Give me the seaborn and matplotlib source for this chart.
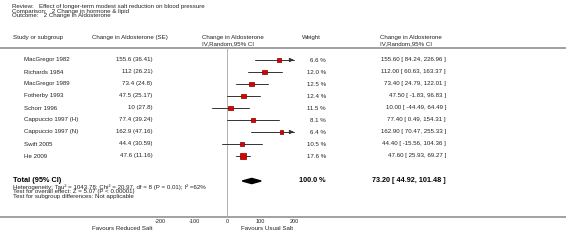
import matplotlib
matplotlib.use("Agg")
import matplotlib.pyplot as plt
import seaborn as sns
import pandas as pd
import numpy as np

sns.set_style("white")
plt.rcParams['font.family'] = ['Liberation Sans', 'DejaVu Sans']

studies = ["MacGregor 1982", "Richards 1984", "MacGregor 1989", "Fotherby 1993",
           "Schorr 1996", "Cappuccio 1997 (H)", "Cappuccio 1997 (N)", "Swift 2005", "He 2009"]
se_text = ["155.6 (36.41)", "112 (26.21)", "73.4 (24.8)", "47.5 (25.17)", "10 (27.8)",
           "77.4 (39.24)", "162.9 (47.16)", "44.4 (30.59)", "47.6 (11.16)"]
means = [155.60, 112.00, 73.40, 47.50, 10.00, 77.40, 162.90, 44.40, 47.60]
lows = [84.24, 60.63, 24.79, -1.83, -44.49, 0.49, 70.47, -15.56, 25.93]
highs = [226.96, 163.37, 122.01, 96.83, 64.49, 154.31, 255.33, 104.36, 69.27]
weights = [6.6, 12.0, 12.5, 12.4, 11.5, 8.1, 6.4, 10.5, 17.6]
total_mean, total_low, total_high = 73.20, 44.92, 101.48
xticks = [-200, -100, 0, 100, 200]

header_lines = ["Review:   Effect of longer-term modest salt reduction on blood pressure",
                "Comparison:   2 Change in hormone & lipid",
                "Outcome:   2 Change in Aldosterone"]
foot_lines = ["Heterogeneity: Tau\u00b2 = 1043.78; Chi\u00b2 = 20.97, df = 8 (P = 0.01); I\u00b2 =62%",
              "Test for overall effect: Z = 5.07 (P < 0.00001)",
              "Test for subgroup differences: Not applicable"]

W, H = 566, 241
fig = plt.figure(figsize=(W / 100, H / 100), dpi=100)
ov = fig.add_axes([0, 0, 1, 1])
ov.set_xlim(0, W)
ov.set_ylim(H, 0)
ov.axis("off")

fs = 4.4
tc = "#222222"
# header
for i, t in enumerate(header_lines):
    ov.text(12, 6.7 + 4.3 * i, t, fontsize=fs, va="center", ha="left", color=tc)
ov.text(13, 37.5, "Study or subgroup", fontsize=fs, va="center", color=tc)
ov.text(92.5, 37.5, "Change in Aldosterone (SE)", fontsize=fs, va="center", color=tc)
ov.text(201.5, 37.5, "Change in Aldosterone", fontsize=fs, va="center", color=tc)
ov.text(201.5, 43.3, "IV,Random,95% CI", fontsize=fs, va="center", color=tc)
ov.text(301.5, 37.5, "Weight", fontsize=fs, va="center", color=tc)
ov.text(380, 37.5, "Change in Aldosterone", fontsize=fs, va="center", color=tc)
ov.text(380, 43.3, "IV,Random,95% CI", fontsize=fs, va="center", color=tc)
ov.plot([0, W], [48.3, 48.3], color="#9a9a9a", lw=1.3)

row_y = [60 + 12 * i for i in range(len(studies))]
for y, s, se, w, m, lo, hi in zip(row_y, studies, se_text, weights, means, lows, highs):
    ov.text(24, y, s, fontsize=fs, va="center", color=tc)
    ov.text(152.5, y, se, fontsize=fs, va="center", ha="right", color=tc)
    ov.text(326, y, f"{w:.1f} %", fontsize=fs, va="center", ha="right", color=tc)
    ov.text(446, y, f"{m:.2f} [ {lo:.2f}, {hi:.2f} ]", fontsize=fs, va="center", ha="right", color=tc)

ty = 181
ov.text(13, ty - 0.5, "Total (95% CI)", fontsize=5.3, fontweight="bold", va="center", color="black")
ov.text(326, ty, "100.0 %", fontsize=5.2, fontweight="bold", va="center", ha="right", color="black")
ov.text(446, ty, f"{total_mean:.2f} [ {total_low:.2f}, {total_high:.2f} ]", fontsize=5.2,
        fontweight="bold", va="center", ha="right", color="black")
for i, t in enumerate(foot_lines):
    ov.text(13, 187.3 + 4.7 * i, t, fontsize=fs, va="center", color=tc)

ov.plot([0, W], [217.4, 217.4], color="#9a9a9a", lw=1.3)
ov.text(152, 228.3, "Favours Reduced Salt", fontsize=fs, va="center", ha="right", color=tc)
ov.text(241, 228.3, "Favours Usual Salt", fontsize=fs, va="center", ha="left", color=tc)

# forest axes: 0 at x=227.3, 0.333 px per unit
x0, ppu = 227.3, 0.3333
left_px = x0 - 300 * ppu
right_px = x0 + 300 * ppu
top_px, bot_px = 48.3, 217.4
ax = fig.add_axes([left_px / W, (H - bot_px) / H, (right_px - left_px) / W, (bot_px - top_px) / H])
ax.set_xlim(-300, 300)
ax.set_ylim(bot_px, top_px)
ax.patch.set_alpha(0)
for sp in ax.spines.values():
    sp.set_visible(False)
ax.set_yticks([])
ax.set_xticks(xticks)
ax.set_xticklabels([str(t) for t in xticks])
ax.tick_params(axis="x", direction="in", length=2, width=0.5, color="#555555",
               labelsize=4.0, pad=1.5, labelcolor=tc)
ax.axvline(0, color="#b0b0b0", lw=0.7, zorder=1)

limit = 200
for y, lo, hi in zip(row_y, lows, highs):
    lo_c, hi_c = max(lo, -limit), min(hi, limit)
    ax.plot([lo_c, hi_c], [y, y], color="#333333", lw=0.7, zorder=2)
    if hi > limit:
        ax.annotate("", xy=(hi_c, y), xytext=(hi_c - 15, y),
                    arrowprops=dict(arrowstyle="-|>,head_length=0.25,head_width=0.12",
                                    color="#333333", lw=0.7))
    if lo < -limit:
        ax.annotate("", xy=(lo_c, y), xytext=(lo_c + 15, y),
                    arrowprops=dict(arrowstyle="-|>,head_length=0.25,head_width=0.12",
                                    color="#333333", lw=0.7))

df = pd.DataFrame({"study": studies, "mean": means, "y": row_y, "weight": weights})
sns.scatterplot(data=df, x="mean", y="y", size="weight", sizes=(6, 17), size_norm=(6.4, 17.6),
                marker="s", color="#e00000", edgecolor="#7a0000", linewidth=0.5,
                legend=False, ax=ax, zorder=3)
ax.set_xlabel("")
ax.set_ylabel("")

dh = 2.6
diamond = plt.Polygon([[total_low, ty], [total_mean, ty - dh], [total_high, ty], [total_mean, ty + dh]],
                      closed=True, color="black", zorder=3)
ax.add_patch(diamond)

fig.savefig("out.png", dpi=100)
